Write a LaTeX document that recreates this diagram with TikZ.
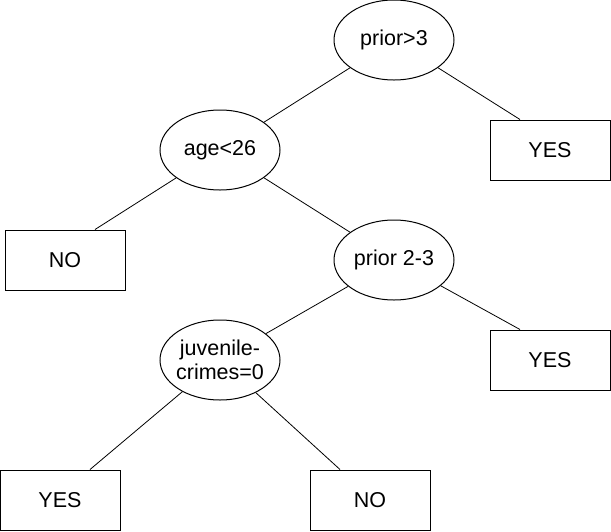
\documentclass[tikz,border=0pt]{standalone}
\usepackage{fontspec}
\setmainfont{Liberation Sans}
\usetikzlibrary{positioning,shapes.geometric}

\begin{document}
\begin{tikzpicture}[
  x=1pt, y=-1pt,
  test/.style={ellipse,draw,line width=1pt,minimum width=120pt,minimum height=80pt,inner ysep=0pt,inner xsep=-5pt,align=center},
  leaf/.style={rectangle,draw,line width=1pt,minimum width=120pt,minimum height=60pt,inner sep=0pt},
  font=\fontsize{21.5}{24}\selectfont
]

\useasboundingbox (0,0) rectangle (611,531);

% tests
\node[test] (p3)  at (394,40)  {prior>3};
\node[test] (age) at (220,150) {age<26};
\node[test] (p23) at (394,260) {prior 2-3};
\node[test] (juv) at (220,360) {juvenile-\\crimes=0};

% leaves
\node[leaf] (yes1) at (550,150) {YES};
\node[leaf] (no1)  at (65,260)  {NO};
\node[leaf] (yes2) at (550,360) {YES};
\node[leaf] (yes3) at (60,500)  {YES};
\node[leaf] (no2)  at (370,500) {NO};

\foreach \a/\b in {p3/age,age/p23,p23/juv}
  \draw[line width=0.8pt] (\a) -- (\b);

\foreach \a/\b/\s in {p3/yes1/-30,age/no1/30,p23/yes2/-30,juv/yes3/30,juv/no2/-30}
  \draw[line width=0.8pt] (\a) -- ([xshift=\s pt]\b.north);

\end{tikzpicture}
\end{document}
